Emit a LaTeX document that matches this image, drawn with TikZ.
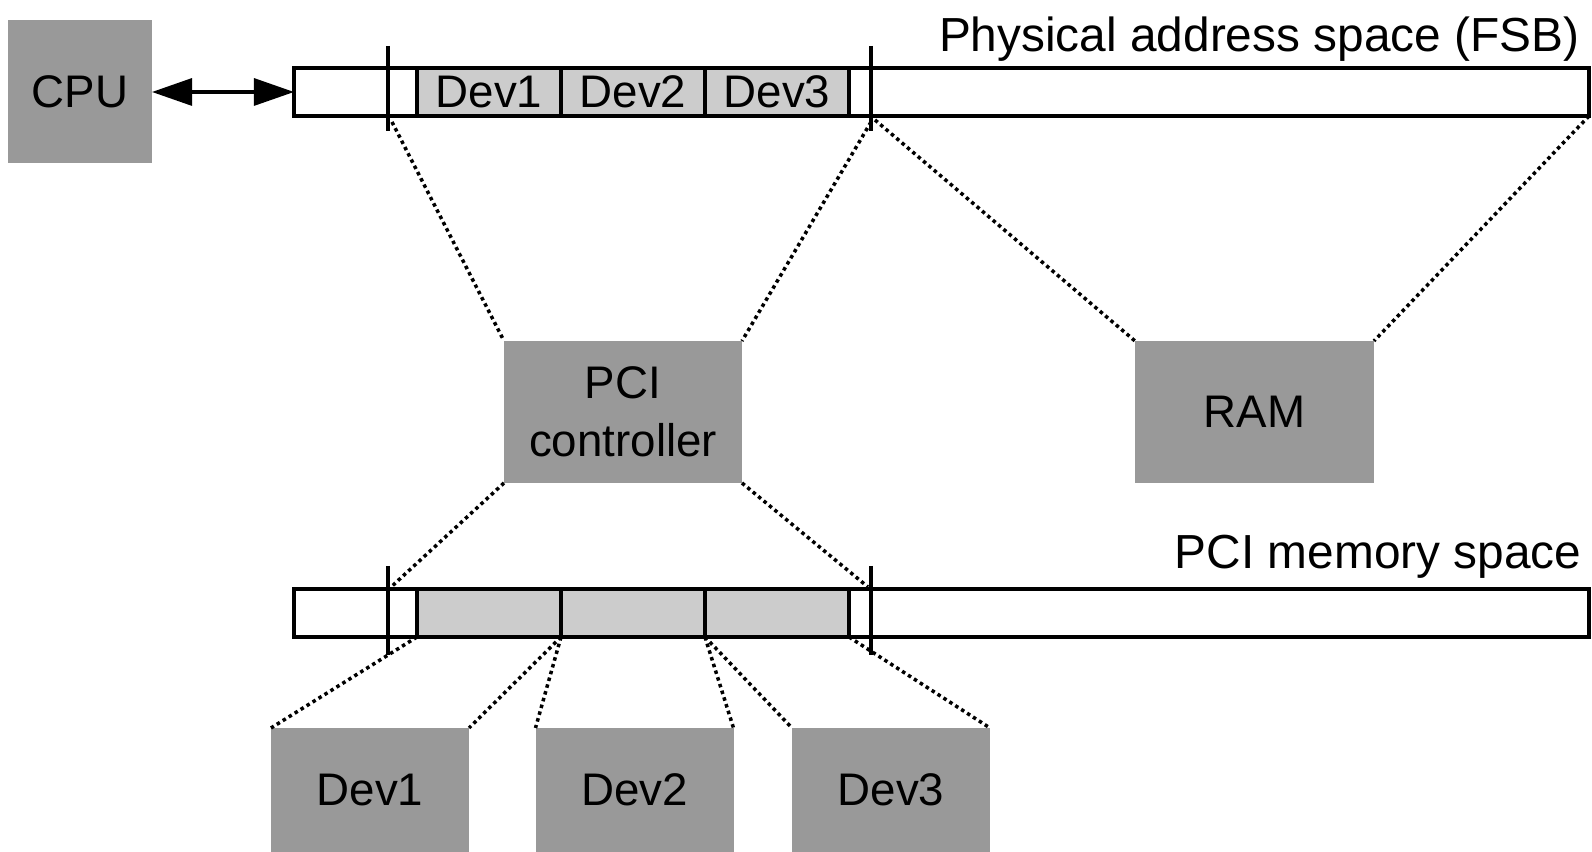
\documentclass[tikz,border=0pt]{standalone}
\usepackage{fontspec}
\setmainfont{Liberation Sans}
\usetikzlibrary{arrows.meta, positioning}
\definecolor{boxgray}{RGB}{153,153,153}
\definecolor{cellgray}{RGB}{204,204,204}

\begin{document}
\begin{tikzpicture}[
        box/.style={fill=boxgray, minimum width=2.38cm, minimum height=1.42cm, align=center, inner sep=0pt, outer sep=0pt},
        bar/.style={draw, line width=1.4pt, minimum height=0.48cm, inner sep=0pt, outer sep=0pt},
        cell/.style={draw, fill=cellgray, line width=1.4pt, minimum width=1.44cm, minimum height=0.48cm, inner sep=0pt, outer sep=0pt},
        tick/.style={line width=1.2pt},
        map/.style={line width=1pt, dash pattern=on 1pt off 1pt},
        every node/.style={font=\fontsize{13}{16.5}\selectfont},
        spacelabel/.style={anchor=base east, inner sep=0pt, font=\fontsize{13.6}{16.5}\selectfont},
        arrow/.style={{Triangle[length=4mm,width=2.7mm]}-{Triangle[length=4mm,width=2.7mm]}, line width=0.9pt}
    ]
    \useasboundingbox (0,0) rectangle (15.92,8.52);

    % CPU
    \node[box, minimum width=1.44cm, minimum height=1.43cm] (cpu) at (0.80, 7.60) {CPU};

    % Physical address space (FSB)
    \node[bar, minimum width=12.95cm] (fsb) at (9.415, 7.60) {};
    \node[spacelabel] (fsblabel) at (15.80, 8.00) {Physical address space (FSB)};
    \foreach \i/\x in {1/4.89, 2/6.33, 3/7.77}
        \node[cell] (f\i) at (\x, 7.60) {Dev\i};
    \foreach \x in {3.88, 8.71}
        \draw[tick] (\x, 8.06) -- (\x, 7.21);

    % Arrow between CPU and FSB
    \draw[arrow] (cpu.east) -- (fsb.west);

    % PCI controller and RAM
    \node[box] (pci) at (6.23, 4.40) {PCI\\controller};
    \node[box, minimum width=2.39cm] (ram) at (12.545, 4.40) {RAM};

    % PCI memory space
    \node[bar, minimum width=12.95cm] (pcimem) at (9.415, 2.39) {};
    \node[spacelabel] (pcimemlabel) at (15.82, 2.83) {PCI memory space};
    \foreach \i/\x in {1/4.89, 2/6.33, 3/7.77}
        \node[cell] (c\i) at (\x, 2.39) {};
    \foreach \x in {3.88, 8.71}
        \draw[tick] (\x, 2.86) -- (\x, 1.97);

    % Devices
    \foreach \i/\x in {1/3.70, 2/6.345, 3/8.91}
        \node[box, minimum width=1.98cm, minimum height=1.24cm] (dev\i) at (\x, 0.62) {Dev\i};

    % Ends of the windows on the bars
    \coordinate (fa) at (3.92, 7.30);
    \coordinate (fb) at (8.71, 7.30);
    \coordinate (fc) at (8.75, 7.32);
    \coordinate (pa) at (3.90, 2.64);
    \coordinate (pb) at (8.68, 2.65);

    % Dotted mappings
    \draw[map] (fa) -- (pci.north west);
    \draw[map] (fb) -- (pci.north east);
    \draw[map] (fc) -- (ram.north west);
    \draw[map] (fsb.south east) -- (ram.north east);
    \draw[map] (pci.south west) -- (pa);
    \draw[map] (pci.south east) -- (pb);
    \foreach \i in {1,2,3} {
        \draw[map] (c\i.south west) -- (dev\i.north west);
        \draw[map] (c\i.south east) -- (dev\i.north east);
    }

\end{tikzpicture}
\end{document}
